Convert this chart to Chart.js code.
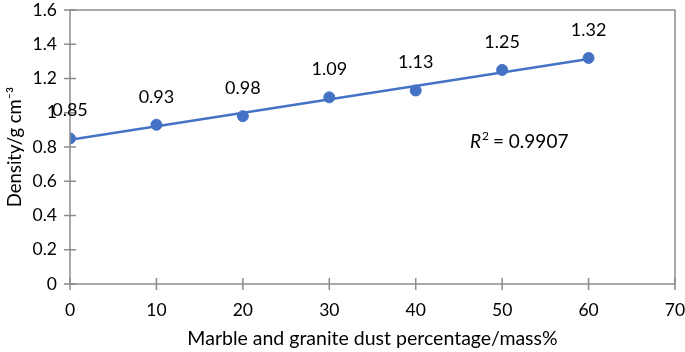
<!DOCTYPE html>
<html>
<head>
<meta charset="utf-8">
<script src="https://cdn.jsdelivr.net/npm/chart.js@4"></script>
<style>
  html, body { margin: 0; padding: 0; background: #fff; }
  #wrap { width: 685px; height: 352px; }
</style>
</head>
<body>
<div id="wrap"><canvas id="chart" width="685" height="352"></canvas></div>
<script>
// --- Data ---
const dustPercent = [0, 10, 20, 30, 40, 50, 60];
const density = [0.85, 0.93, 0.98, 1.09, 1.13, 1.25, 1.32];
const densityLabels = ['0.85', '0.93', '0.98', '1.09', '1.13', '1.25', '1.32'];
const rSquaredText = '0.9907';

const FONT = 'Lato, "Liberation Sans", sans-serif';
const BLUE = '#4472C4';
const AXIS = '#8c8c8c';

// least squares trendline from the points
const fitLine = () => {
    const n = dustPercent.length;
    const mx = dustPercent.reduce((a, b) => a + b, 0) / n;
    const my = density.reduce((a, b) => a + b, 0) / n;
    let sxy = 0, sxx = 0;
    dustPercent.forEach((x, i) => {
        sxy += (x - mx) * (density[i] - my);
        sxx += (x - mx) * (x - mx);
    });
    const slope = sxy / sxx;
    const icept = my - slope * mx;
    const x0 = dustPercent[0], x1 = dustPercent[n - 1];
    return [{ x: x0, y: icept + slope * x0 }, { x: x1, y: icept + slope * x1 }];
};

const points = dustPercent.map((x, i) => ({ x: x, y: density[i] }));

// frame, crossing tick marks, point labels and R² text
const extras = {
    id: 'extras',
    afterDraw(chart) {
        const { ctx, chartArea: a, scales: { x, y } } = chart;
        ctx.save();
        ctx.strokeStyle = AXIS;
        ctx.lineWidth = 1.5;
        ctx.strokeRect(a.left, a.top, a.right - a.left, a.bottom - a.top);
        ctx.beginPath();
        y.ticks.forEach(t => {
            const py = y.getPixelForValue(t.value);
            ctx.moveTo(a.left - 6, py); ctx.lineTo(a.left + 6, py);
        });
        x.ticks.forEach(t => {
            const px = x.getPixelForValue(t.value);
            ctx.moveTo(px, a.bottom - 6); ctx.lineTo(px, a.bottom + 6);
        });
        ctx.stroke();

        ctx.fillStyle = '#000';
        ctx.font = '18px ' + FONT;
        ctx.textAlign = 'center';
        ctx.textBaseline = 'middle';
        const meta = chart.getDatasetMeta(1);
        meta.data.forEach((el, i) => {
            ctx.fillText(densityLabels[i], el.x, el.y - 28);
        });

        ctx.textAlign = 'left';
        ctx.font = 'italic 19px ' + FONT;
        const rx = 470, ry = 142;
        ctx.fillText('R', rx, ry);
        const rw = ctx.measureText('R').width;
        ctx.font = '12px ' + FONT;
        ctx.fillText('2', rx + rw + 1, ry - 6);
        ctx.font = '19px ' + FONT;
        ctx.fillText(' = ' + rSquaredText, rx + rw + 7, ry);
        ctx.restore();
    }
};

const noEdgePad = s => {
    s.paddingTop = 0; s.paddingBottom = 0;
    s.paddingLeft = 0; s.paddingRight = 0;
};

new Chart(document.getElementById('chart'), {
    type: 'scatter',
    data: {
        datasets: [
            {
                type: 'line',
                data: fitLine(),
                borderColor: BLUE,
                borderWidth: 2.5,
                pointRadius: 0,
                order: 2
            },
            {
                data: points,
                backgroundColor: BLUE,
                borderColor: BLUE,
                pointRadius: 5.5,
                order: 1
            }
        ]
    },
    options: {
        responsive: false,
        animation: false,
        layout: { padding: { top: 10, right: 10, left: 0, bottom: 0 } },
        plugins: { legend: { display: false }, tooltip: { enabled: false } },
        scales: {
            x: {
                type: 'linear',
                min: 0, max: 70,
                ticks: { stepSize: 10, color: '#000', padding: 16, font: { family: FONT, size: 17.5 } },
                grid: { display: false, drawTicks: false },
                border: { display: false },
                title: { display: true, text: 'Marble and granite dust percentage/mass%', color: '#000',
                         font: { family: FONT, size: 19.5 }, padding: { top: 0, bottom: 2 } },
                afterFit: s => { s.height = 68; noEdgePad(s); }
            },
            y: {
                min: 0, max: 1.6,
                ticks: { stepSize: 0.2, color: '#000', padding: 13, font: { family: FONT, size: 17.5 },
                         callback: v => Number(v.toFixed(1)).toString() },
                grid: { display: false, drawTicks: false },
                border: { display: false },
                title: { display: true, text: 'Density/g cm\u207B\u00B3', color: '#000',
                         font: { family: FONT, size: 18.5 }, padding: { bottom: 2 } },
                afterFit: s => { s.width = 70; noEdgePad(s); }
            }
        }
    },
    plugins: [extras]
});
</script>
</body>
</html>
